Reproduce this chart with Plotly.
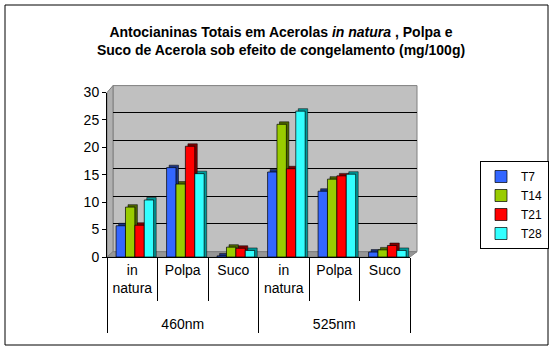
import plotly.graph_objects as go

# ---- data ----
groups = ["<br>460nm", "<br>460nm", "<br>460nm", "<br>525nm", "<br>525nm", "<br>525nm"]
subcats = ["in<br>natura", "Polpa", "Suco", "in<br>natura", "Polpa", "Suco"]
series_names = ["T7", "T14", "T21", "T28"]
T7 = [5.7, 16.3, 0.2, 15.5, 12.0, 0.9]
T14 = [9.1, 13.3, 1.8, 24.2, 14.2, 1.3]
T21 = [5.8, 20.2, 1.6, 16.1, 14.8, 2.1]
T28 = [10.4, 15.2, 1.2, 26.6, 15.1, 1.2]
series_values = [T7, T14, T21, T28]
y_ticks = [0, 5, 10, 15, 20, 25, 30]

# ---- style ----
front_colors = ["#3366FF", "#99CC00", "#FF0000", "#33FFFF"]
side_colors = ["#1A3380", "#4D6600", "#800000", "#009999"]
FONT = "Liberation Sans, Arial, sans-serif"

FIG_W, FIG_H = 555, 351
L, R, T, B = 107, 417, 85, 257
W, H = R - L, B - T


def xp(px):
    return (px - L) / W


def yp(py):
    return (B - py) / H


bar_w = 0.186
bar_start = -0.32
depth_x = 0.05
depth_y = 0.45

fig = go.Figure()

# empty trace so that the back-wall subplot exists
fig.add_trace(go.Scatter(x=[], y=[], xaxis="x", yaxis="y", showlegend=False, hoverinfo="skip"))

# 3D side/top faces
for i, vals in enumerate(series_values):
    fig.add_trace(go.Bar(
        x=[groups, subcats], y=[v + depth_y for v in vals],
        offset=bar_start + i * bar_w + depth_x, width=bar_w,
        marker=dict(color=side_colors[i], line=dict(color="#000000", width=0.5)),
        xaxis="x2", yaxis="y2", showlegend=False, hoverinfo="skip",
    ))

# front faces
for i, vals in enumerate(series_values):
    fig.add_trace(go.Bar(
        x=[groups, subcats], y=vals, name=series_names[i],
        offset=bar_start + i * bar_w, width=bar_w,
        marker=dict(color=front_colors[i], line=dict(color="#000000", width=0.7)),
        xaxis="x2", yaxis="y2", legendgroup=series_names[i],
    ))

shapes = [
    # outer frame
    dict(type="rect", xref="paper", yref="paper", x0=xp(5), x1=xp(548), y0=yp(345), y1=yp(5),
         line=dict(color="#000000", width=1), fillcolor="rgba(0,0,0,0)", layer="below"),
    # back wall
    dict(type="rect", xref="paper", yref="paper", x0=xp(113), x1=xp(417), y0=yp(251.7), y1=yp(85.6),
         line=dict(color="#808080", width=1), fillcolor="#C0C0C0", layer="below"),
    # left wall
    dict(type="path", xref="paper", yref="paper",
         path=f"M {xp(107)},{yp(257)} L {xp(107)},{yp(92.5)} L {xp(113)},{yp(85.6)} L {xp(113)},{yp(251.7)} Z",
         line=dict(color="#808080", width=1), fillcolor="#B0B0B0", layer="below"),
    # floor
    dict(type="path", xref="paper", yref="paper",
         path=f"M {xp(107)},{yp(257)} L {xp(410)},{yp(257)} L {xp(417)},{yp(251.7)} L {xp(113)},{yp(251.7)} Z",
         line=dict(color="#808080", width=1), fillcolor="#969696", layer="below"),
]

fig.update_layout(
    width=FIG_W, height=FIG_H, autosize=False,
    margin=dict(l=L, r=FIG_W - R, t=T, b=FIG_H - B, pad=0),
    paper_bgcolor="#FFFFFF", plot_bgcolor="rgba(0,0,0,0)",
    font=dict(family=FONT, size=14, color="#000000"),
    barmode="overlay",
    title=dict(
        text="<b>Antocianinas Totais em Acerolas <i>in natura</i> , Polpa e<br>Suco de Acerola sob efeito de congelamento (mg/100g)</b>",
        x=281 / FIG_W, xref="container", xanchor="center",
        y=1 - 37 / FIG_H, yref="container", yanchor="middle",
        font=dict(family=FONT, size=14, color="#000000"),
    ),
    showlegend=True,
    legend=dict(
        xref="container", yref="container",
        x=480 / FIG_W, y=1 - 161 / FIG_H, xanchor="left", yanchor="top",
        bgcolor="#FFFFFF", bordercolor="#000000", borderwidth=1,
        font=dict(family=FONT, size=12, color="#000000"),
        itemwidth=30, tracegroupgap=6, traceorder="normal",
    ),
    # back wall grid axes
    xaxis=dict(domain=[xp(113), 1], range=[0, 1], anchor="y", showgrid=False, zeroline=False,
               showticklabels=False, showline=False, ticks="", fixedrange=True),
    yaxis=dict(domain=[yp(251.7), 1], range=[0, 30], anchor="x", tickvals=y_ticks,
               showgrid=True, gridcolor="#000000", gridwidth=1, zeroline=False,
               showticklabels=False, showline=False, ticks="", fixedrange=True),
    # front axes with bars
    xaxis2=dict(domain=[0, xp(410)], anchor="y2", type="multicategory",
                showline=True, linecolor="#000000", linewidth=1, tickangle=0,
                ticks="outside", tickson="boundaries", ticklen=43, tickcolor="#000000", tickwidth=1,
                showdividers=True, dividercolor="#000000", dividerwidth=1,
                showgrid=False, zeroline=False, tickfont=dict(family=FONT, size=14, color="#000000")),
    yaxis2=dict(domain=[0, yp(92.5)], anchor="x2", range=[0, 30], tickvals=y_ticks,
                showline=True, linecolor="#000000", linewidth=1,
                ticks="outside", ticklen=4, tickcolor="#000000",
                showgrid=False, zeroline=False, tickfont=dict(family=FONT, size=14, color="#000000")),
    shapes=shapes,
)

fig.write_html("out.html")
